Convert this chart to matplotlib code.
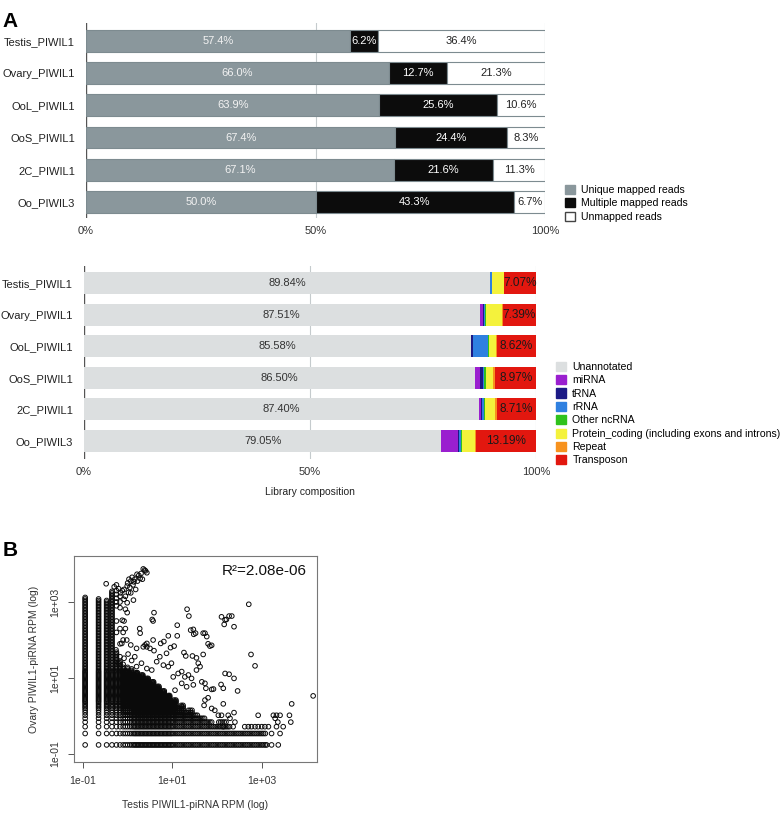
import numpy as np
import matplotlib.pyplot as plt
from matplotlib.patches import Patch

plt.rcParams['font.family'] = ['Liberation Sans', 'DejaVu Sans']

# libraries, top to bottom
libraries = ['Testis_PIWIL1', 'Ovary_PIWIL1', 'OoL_PIWIL1', 'OoS_PIWIL1', '2C_PIWIL1', 'Oo_PIWIL3']

# mapping rate (%)
unique_mapped = [57.4, 66.0, 63.9, 67.4, 67.1, 50.0]
multi_mapped = [6.2, 12.7, 25.6, 24.4, 21.6, 43.3]
unmapped = [36.4, 21.3, 10.6, 8.3, 11.3, 6.7]

# library composition (%)
comp_names = ['Unannotated', 'miRNA', 'tRNA', 'rRNA', 'Other ncRNA',
              'Protein_coding (including exons and introns)', 'Repeat', 'Transposon']
unannotated = [89.84, 87.51, 85.58, 86.50, 87.40, 79.05]
mirna = [0.05, 0.7, 0.15, 1.1, 0.5, 3.7]
trna = [0.04, 0.3, 0.4, 0.65, 0.25, 0.11]
rrna = [0.25, 0.1, 3.3, 0.35, 0.35, 0.5]
other_ncrna = [0.1, 0.3, 0.15, 0.3, 0.15, 0.2]
protein_coding = [2.6, 3.6, 1.6, 1.63, 2.34, 2.95]
repeat = [0.05, 0.1, 0.2, 0.5, 0.3, 0.3]
transposon = [7.07, 7.39, 8.62, 8.97, 8.71, 13.19]
comp_colors = ['#dcdfe0', '#9a1fcf', '#1c1a86', '#2f80e0', '#2fc21c', '#f4f23c', '#f7921e', '#e2170f']

# scatter (log10 RPM), discrete levels seen in the picture
x_levels = [-0.95, -0.65, -0.47, -0.35, -0.25, -0.17, -0.1, -0.05, 0.0, 0.05, 0.09, 0.13, 0.16,
            0.19, 0.22, 0.25, 0.28, 0.31, 0.34, 0.37, 0.4, 0.43, 0.46, 0.49, 0.52, 0.55, 0.58,
            0.61, 0.64, 0.67, 0.7, 0.73, 0.76, 0.79, 0.82, 0.85, 0.88, 0.91, 0.94, 0.97, 1.0,
            1.04, 1.08, 1.12, 1.16, 1.2, 1.24, 1.28, 1.32, 1.36, 1.4, 1.44, 1.48, 1.52, 1.56,
            1.6, 1.64, 1.68, 1.72, 1.76, 1.8, 1.84, 1.88, 1.92, 1.96, 2.0, 2.04, 2.08, 2.12,
            2.16, 2.2, 2.24, 2.28, 2.32, 2.36, 2.4, 2.44, 2.48, 2.52, 2.56, 2.6, 2.64, 2.68,
            2.72, 2.76, 2.8, 2.84, 2.88, 2.92, 2.96, 3.0, 3.04, 3.08]
y_levels = [-0.76, -0.46, -0.28, -0.16, -0.06, 0.02, 0.09, 0.15, 0.2, 0.24, 0.28, 0.32, 0.36,
            0.39, 0.42, 0.45, 0.48, 0.51, 0.54, 0.57, 0.6, 0.63, 0.66, 0.69, 0.72, 0.75, 0.78,
            0.81, 0.84, 0.87, 0.9, 0.93, 0.96, 0.99, 1.02, 1.05, 1.08, 1.11, 1.14, 1.17, 1.2,
            1.24, 1.28, 1.32, 1.36, 1.4, 1.44, 1.48, 1.52, 1.56, 1.6, 1.64, 1.68, 1.72, 1.76,
            1.8, 1.84, 1.88, 1.92, 1.96, 2.0, 2.04, 2.08, 2.12, 2.16, 2.2, 2.24, 2.28, 2.32,
            2.36, 2.4, 2.44, 2.48, 2.52, 2.56, 2.6, 2.64, 2.68, 2.72, 2.76, 2.8, 2.84, 2.88,
            2.92, 2.96, 3.0, 3.04, 3.08, 3.12, 3.16, 3.2, 3.24, 3.28, 3.32]
# upper edge of the solid black area, read per x range
top_lx = [-0.95, -0.65, -0.47, -0.35, -0.25, -0.17, -0.1, -0.05, 0.0, 0.05, 0.09, 0.16, 0.22,
          0.28, 0.34, 0.4, 0.46, 0.52, 0.58, 0.64, 0.7, 0.76, 0.82, 0.88, 0.94, 1.0, 1.08,
          1.16, 1.24, 1.32, 1.44, 1.56, 1.72, 1.88, 2.0, 2.2, 2.3, 3.1]
top_ly = [3.13, 3.1, 3.05, 3.3, 1.7, 1.45, 1.3, 1.2, 1.28, 1.15, 1.24, 1.1, 1.16,
          1.02, 1.08, 0.93, 0.99, 0.84, 0.9, 0.72, 0.78, 0.6, 0.66, 0.48, 0.54, 0.36, 0.42,
          0.2, 0.28, 0.09, 0.15, 0.02, -0.06, -0.16, -0.28, -0.16, -0.28, -0.46]

# single points outside the solid area (log10 testis, log10 ovary)
loose_points = [
    (-0.48, 3.48), (-0.25, 3.45), (-0.08, 3.33), (-0.01, 3.42), (0.07, 3.55), (0.14, 3.53),
    (0.21, 3.73), (0.38, 3.84), (0.4, 3.82), (0.33, 3.6), (0.43, 3.77), (-0.16, 3.24),
    (-0.08, 3.07), (-0.01, 2.98), (0.07, 3.24), (0.18, 3.33), (0.13, 3.05), (0.0, 3.5),
    (0.03, 3.6), (0.1, 3.65), (0.16, 3.6), (0.25, 3.7), (0.3, 3.75), (0.12, 3.45),
    (0.05, 3.38), (-0.12, 3.3), (-0.2, 3.35), (-0.3, 3.4), (0.35, 3.87), (0.28, 3.62),
    (0.22, 3.55), (-0.05, 3.15), (0.02, 3.25), (-0.25, 2.9), (-0.25, 3.0), (-0.25, 3.1),
    (-0.25, 3.2), (-0.25, 3.3), (-0.17, 3.0), (-0.17, 3.15), (-0.17, 2.85), (-0.25, 2.2),
    (-0.25, 2.5), (-0.17, 2.3), (-0.1, 2.2), (-0.05, 2.3), (-0.17, 1.9), (-0.1, 2.0),
    (-0.12, 2.52), (-0.08, 2.5), (-0.01, 2.72), (-0.05, 2.81), (0.59, 2.72), (0.55, 2.54),
    (0.57, 2.5), (0.27, 2.3), (0.28, 2.18), (1.33, 2.81), (1.37, 2.63), (1.11, 2.39),
    (1.47, 2.28), (1.48, 2.15), (0.91, 2.11), (1.11, 2.11), (0.57, 2.0), (0.74, 1.91),
    (0.81, 1.96), (1.04, 1.84), (0.96, 1.8), (0.39, 1.87), (0.43, 1.82), (1.26, 1.67),
    (1.3, 1.58), (1.45, 1.58), (2.71, 2.94), (2.33, 2.63), (2.21, 2.54), (2.16, 2.41),
    (2.38, 2.35), (1.69, 2.18), (1.77, 2.09), (1.52, 2.18), (1.8, 1.9), (1.88, 1.86),
    (1.69, 1.62), (2.76, 1.62), (1.54, 1.53), (2.1, 2.61), (2.18, 2.53), (2.27, 2.63),
    (1.73, 2.18), (1.84, 1.84), (1.41, 2.26), (2.85, 1.32), (1.58, 1.39), (1.62, 1.3),
    (2.18, 1.12), (2.27, 1.1), (2.38, 0.99), (1.73, 0.86), (1.92, 0.71), (2.09, 0.83),
    (2.14, 0.73), (2.46, 0.66), (4.15, 0.53), (3.67, 0.32), (2.14, 0.32), (1.8, 0.48),
    (1.73, 0.42), (1.71, 0.28), (1.88, 0.2), (1.95, 0.15), (2.03, 0.02), (2.1, 0.02),
    (2.25, 0.02), (2.29, -0.06), (2.92, 0.02), (3.26, 0.02), (3.33, 0.02), (3.41, 0.02),
    (3.62, 0.02), (3.3, -0.06), (3.36, -0.16), (3.65, -0.16), (2.38, 0.09), (2.4, -0.16),
    (2.14, -0.28), (2.36, -0.28), (2.62, -0.28), (2.7, -0.28), (2.77, -0.28), (2.85, -0.28),
    (2.92, -0.28), (3.0, -0.28), (3.07, -0.28), (3.15, -0.28), (3.33, -0.28), (3.48, -0.28),
    (3.22, -0.46), (3.41, -0.46), (3.11, -0.76), (3.22, -0.76), (3.37, -0.76),
    (-0.17, 1.56), (-0.08, 1.52), (0.01, 1.63), (0.09, 1.46), (0.16, 1.56), (0.2, 1.78),
    (0.35, 1.82), (0.43, 1.91), (0.5, 1.78), (0.59, 1.72), (0.65, 1.43), (0.72, 1.56),
    (0.8, 1.34), (0.87, 1.65), (0.91, 1.3), (0.98, 1.39), (1.02, 1.03), (1.13, 1.12),
    (1.21, 1.17), (1.28, 1.03), (1.36, 1.08), (1.43, 0.99), (1.54, 1.21), (1.66, 0.9),
    (1.75, 0.73), (1.88, 0.7), (1.47, 0.82), (1.32, 0.77), (1.21, 0.86), (1.06, 0.68),
    (0.2, 1.3), (0.31, 1.39), (0.43, 1.25), (0.54, 1.21), (-0.13, 1.91), (-0.02, 2.0),
    (0.07, 1.87), (-0.26, 1.74), (-0.21, 1.39), (-0.1, 1.36),
]

fig = plt.figure(figsize=(7.82, 8.13), dpi=100)
text_col = '#222222'

# ---------- A: mapping rate ----------
ax1 = fig.add_axes([0.110, 0.7319, 0.587, 0.2399])
ypos = np.arange(len(libraries))
bh = 0.68
edge = '#7d8b90'
ax1.barh(ypos, unique_mapped, height=bh, color='#8a979c', edgecolor=edge, linewidth=0.8, zorder=2)
ax1.barh(ypos, multi_mapped, left=unique_mapped, height=bh, color='#0c0c0c', edgecolor=edge, linewidth=0.8, zorder=2)
left3 = np.array(unique_mapped) + np.array(multi_mapped)
ax1.barh(ypos, unmapped, left=left3, height=bh, color='white', edgecolor=edge, linewidth=0.8, zorder=2)
for i in range(len(libraries)):
    ax1.text(unique_mapped[i] / 2, i, f'{unique_mapped[i]:.1f}%', ha='center', va='center', color='#f2f2f2', fontsize=8, zorder=3)
    ax1.text(unique_mapped[i] + multi_mapped[i] / 2, i, f'{multi_mapped[i]:.1f}%', ha='center', va='center', color='white', fontsize=8, zorder=3)
    ax1.text(left3[i] + unmapped[i] / 2, i, f'{unmapped[i]:.1f}%', ha='center', va='center', color=text_col, fontsize=8, zorder=3)
ax1.set_xlim(0, 100)
ax1.set_ylim(5.5, -0.56)

# ---------- A: composition ----------
ax2 = fig.add_axes([0.1074, 0.4354, 0.578, 0.2374])
comp_series = [unannotated, mirna, trna, rrna, other_ncrna, protein_coding, repeat, transposon]
left = np.zeros(len(libraries))
for vals, col in zip(comp_series, comp_colors):
    ax2.barh(ypos, vals, left=left, height=0.7, color=col, linewidth=0, zorder=2)
    left = left + np.array(vals)
for i in range(len(libraries)):
    ax2.text(unannotated[i] / 2, i, f'{unannotated[i]:.2f}%', ha='center', va='center', color='#333333', fontsize=8, zorder=3)
    ax2.text(100 - transposon[i] / 2, i, f'{transposon[i]:.2f}%', ha='center', va='center', color='#1a1a1a', fontsize=8.5, zorder=3)
ax2.set_xlim(0, 100)
ax2.set_ylim(5.57, -0.54)
ax2.set_xlabel('Library composition', fontsize=7.5, color=text_col, labelpad=7)

for ax in (ax1, ax2):
    for s in ax.spines.values():
        s.set_visible(False)
    ax.axvline(0, color='#555555', linewidth=1.0, zorder=1)
    ax.axvline(50, color='#c5cbcd', linewidth=0.8, zorder=1)
    ax.axvline(100, color='#c5cbcd', linewidth=0.8, zorder=1)
    ax.set_yticks(ypos)
    ax.set_yticklabels(libraries, fontsize=8, color=text_col)
    ax.set_xticks([0, 50, 100])
    ax.set_xticklabels(['0%', '50%', '100%'], fontsize=8, color='#333333')
    ax.tick_params(axis='both', length=0)
    ax.tick_params(axis='y', pad=8)
    ax.tick_params(axis='x', pad=6)

leg1 = [Patch(facecolor='#8a979c', edgecolor='#8a979c', label='Unique mapped reads'),
        Patch(facecolor='#0c0c0c', edgecolor='#0c0c0c', label='Multiple mapped reads'),
        Patch(facecolor='white', edgecolor='#444444', label='Unmapped reads')]
fig.legend(handles=leg1, loc='upper left', bbox_to_anchor=(0.722, 0.773), frameon=False,
           fontsize=7.6, handlelength=0.95, handleheight=0.95, handletextpad=0.6, labelspacing=0.33,
           borderpad=0, borderaxespad=0)
leg2 = [Patch(facecolor=c, edgecolor=c, label=n) for n, c in zip(comp_names, comp_colors)]
fig.legend(handles=leg2, loc='upper left', bbox_to_anchor=(0.711, 0.555), frameon=False,
           fontsize=7.6, handlelength=0.95, handleheight=0.95, handletextpad=0.6, labelspacing=0.3,
           borderpad=0, borderaxespad=0)

# ---------- B: scatter ----------
ax3 = fig.add_axes([0.0946, 0.0627, 0.3107, 0.2534])
dense_x, dense_y = [], []
for lx in x_levels:
    top = next(t for b, t in zip(top_lx, top_ly) if lx <= b + 1e-9)
    for ly in y_levels:
        if ly <= top:
            dense_x.append(lx)
            dense_y.append(ly)
px = np.array(dense_x + [p[0] for p in loose_points])
py = np.array(dense_y + [p[1] for p in loose_points])
ax3.scatter(10 ** px, 10 ** py, s=11, facecolors='none', edgecolors='#0a0a0a', linewidths=0.7)
ax3.set_xscale('log')
ax3.set_yscale('log')
ax3.set_xlim(10 ** -1.2, 10 ** 4.235)
ax3.set_ylim(10 ** -1.21, 10 ** 4.21)
ax3.set_xticks([0.1, 10, 1000])
ax3.set_xticklabels(['1e-01', '1e+01', '1e+03'])
ax3.set_yticks([0.1, 10, 1000])
ax3.set_yticklabels(['1e-01', '1e+01', '1e+03'], rotation=90, va='center')
ax3.minorticks_off()
ax3.tick_params(axis='both', direction='out', length=4, width=0.7, color='#555555',
                labelsize=7.5, labelcolor='#333333', pad=6)
for s in ax3.spines.values():
    s.set_color('#777777')
    s.set_linewidth(0.8)
ax3.set_xlabel('Testis PIWIL1-piRNA RPM (log)', fontsize=7.5, color='#333333', labelpad=10)
ax3.set_ylabel('Ovary PIWIL1-piRNA RPM (log)', fontsize=7.5, color='#333333', labelpad=8)
ax3.text(0.96, 0.925, 'R²=2.08e-06', transform=ax3.transAxes, ha='right', va='center',
         fontsize=11, color='#111111')

fig.text(0.003, 0.985, 'A', fontsize=15, fontweight='bold', va='top', ha='left')
fig.text(0.003, 0.334, 'B', fontsize=15, fontweight='bold', va='top', ha='left')

fig.savefig('out.png', dpi=100)
